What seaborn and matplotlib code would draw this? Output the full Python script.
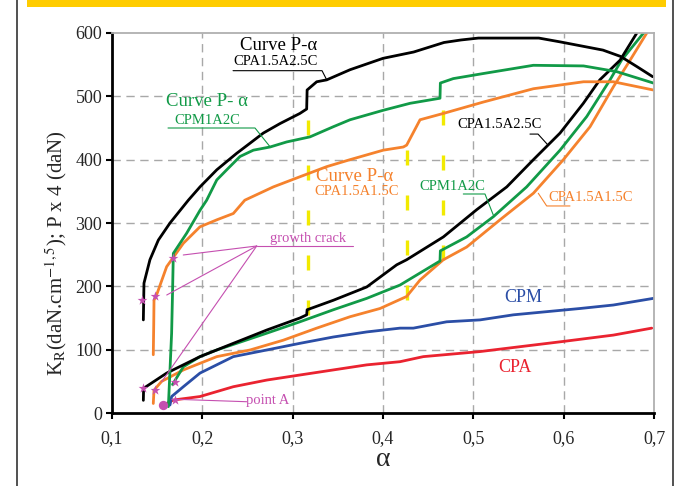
import numpy as np
import pandas as pd
import matplotlib
matplotlib.use("Agg")
import matplotlib.pyplot as plt
from matplotlib.lines import Line2D
from matplotlib.patches import Rectangle
import seaborn as sns

# ---------------- data ----------------
# P-alpha curves (P x 4)
p_black_a = [0.1347, 0.1354, 0.142, 0.1513, 0.1642, 0.1845, 0.1974, 0.216, 0.238, 0.2528, 0.2675, 0.286,
             0.308, 0.3155, 0.3160, 0.3266, 0.3377, 0.3635, 0.40, 0.434, 0.4675, 0.4864, 0.5056, 0.5725,
             0.596, 0.6435, 0.663, 0.681, 0.6986]
p_black_k = [147, 205, 242, 273, 300, 336, 357, 384, 410, 426, 442, 457,
             473, 480, 510, 523, 526, 542, 560, 570, 585, 589, 592, 592,
             586, 573, 563, 547, 531]

p_green_a = [0.1624, 0.1642, 0.1660, 0.1670, 0.1679, 0.1827, 0.1974, 0.2048, 0.216, 0.227, 0.2417, 0.2565,
             0.275, 0.2934, 0.3192, 0.345, 0.3635, 0.4003, 0.43, 0.4631, 0.4635, 0.4778, 0.511, 0.5664,
             0.622, 0.6587, 0.6993]
p_green_k = [10, 68, 126, 189, 252, 284, 320, 336, 368, 384, 405, 415,
             420, 428, 436, 452, 463, 478, 489, 497, 521, 528, 536, 549,
             548, 539, 521]

p_orange_a = [0.1457, 0.1462, 0.1465, 0.150, 0.1605, 0.179, 0.1974, 0.216, 0.2343, 0.247, 0.2786, 0.308,
              0.3377, 0.3635, 0.4003, 0.4225, 0.4262, 0.441, 0.4668, 0.5111, 0.5665, 0.622, 0.655, 0.6993]
p_orange_k = [92, 140, 178, 189, 231, 268, 294, 305, 315, 336, 357, 373,
              389, 400, 415, 420, 423, 463, 473, 491, 512, 523, 523, 510]

# K_R - alpha curves
k_black_a = [0.1347, 0.1350, 0.1605, 0.1974, 0.2343, 0.2713, 0.308, 0.3155, 0.3160, 0.345, 0.382, 0.4152,
             0.4262, 0.4668, 0.5037, 0.537, 0.5665, 0.596, 0.6218, 0.64, 0.6624, 0.681, 0.69]
k_black_k = [20, 39, 63, 89, 110, 131, 150, 155, 163, 178, 199, 234,
             242, 278, 321, 357, 400, 442, 489, 526, 557, 600, 620]

k_green_a = [0.167, 0.179, 0.1974, 0.216, 0.2713, 0.308, 0.345, 0.382, 0.4188, 0.4631, 0.4635, 0.4926,
             0.5222, 0.559, 0.596, 0.6255, 0.6513, 0.664, 0.6884, 0.695]
k_green_k = [45, 73, 89, 99.5, 126, 144, 163, 181, 202, 240, 256, 278,
             310, 357, 415, 468, 526, 557, 600, 612]

k_orange_a = [0.1457, 0.1465, 0.155, 0.179, 0.216, 0.2528, 0.2897, 0.3266, 0.3635, 0.3967, 0.4262, 0.441,
              0.4668, 0.4926, 0.5295, 0.5665, 0.5997, 0.6292, 0.655, 0.6735, 0.692, 0.70]
k_orange_k = [15, 36, 50, 68, 89, 99.5, 115, 134, 152, 165, 184, 210,
              242, 262, 305, 347, 400, 452, 515, 557, 600, 615]

cpm_a = [0.1642, 0.1660, 0.179, 0.1974, 0.2343, 0.2713, 0.308, 0.345, 0.382, 0.4188, 0.4336, 0.4705,
         0.5074, 0.5443, 0.5812, 0.6181, 0.655, 0.6993]
cpm_k = [12.6, 26, 41.5, 63, 89, 99.5, 110, 120, 128, 134, 134, 144,
         147, 155, 160, 165, 170.5, 181]

cpa_a = [0.1568, 0.1605, 0.1679, 0.1974, 0.2343, 0.2713, 0.308, 0.345, 0.382, 0.4188, 0.4446, 0.5074,
         0.5996, 0.655, 0.6975]
cpa_k = [7, 15, 20.5, 26, 41.5, 52, 60, 68, 76, 81, 89, 97,
         113, 123, 134]

# yellow dashed jump markers: alpha, K bottom, K top
jump_a = [0.3166, 0.4266, 0.4668]
jump_lo = [155, 178, 241]
jump_hi = [486, 423, 497]

# growth-crack / point A markers
star_a = [0.1329, 0.1476, 0.1679, 0.1347, 0.1476, 0.1697, 0.1697]
star_k = [178, 184, 244, 39, 36, 49, 20.5]
circle_a = [0.1568]
circle_k = [12.6]

x_ticks = [0.1, 0.2, 0.3, 0.4, 0.5, 0.6, 0.7]
x_tick_labels = ["0,1", "0,2", "0,3", "0,4", "0,5", "0,6", "0,7"]
y_ticks = [0, 100, 200, 300, 400, 500, 600]

# ---------------- style ----------------
sns.set_style("white")
plt.rcParams["font.family"] = ["Liberation Serif", "DejaVu Serif"]
plt.rcParams["mathtext.fontset"] = "stix"

BLACK = "#000000"
GREEN = "#119a47"
ORANGE = "#f5822d"
BLUE = "#2b4ea6"
RED = "#ea2330"
MAG = "#c54fb0"
YEL = "#f2ea00"

fig = plt.figure(figsize=(6.76, 4.86), dpi=100)
ax = fig.add_axes([112 / 676, 1 - 413 / 486, (654 - 112) / 676, (413 - 33) / 486])

# frame + yellow bar
fig.add_artist(Line2D([17 / 676, 17 / 676], [0, 1], color="#333333", lw=1.2, transform=fig.transFigure))
fig.add_artist(Line2D([673 / 676, 673 / 676], [0, 1], color="#333333", lw=1.2, transform=fig.transFigure))
fig.add_artist(Rectangle((27 / 676, 1 - 7 / 486), (666 - 27) / 676, 7 / 486, color="#ffcc00",
                         transform=fig.transFigure, lw=0))


def draw(a, k, color, lw):
    df = pd.DataFrame({"alpha": a, "K": k})
    sns.lineplot(data=df, x="alpha", y="K", sort=False, estimator=None, color=color, lw=lw, ax=ax)


# grid
for g in [0.2, 0.3, 0.4, 0.5, 0.6]:
    ax.axvline(g, color="#a8a8a8", lw=1.0, ls=(0, (6, 4)), zorder=0.5)
for g in [100, 200, 300, 400, 500]:
    ax.axhline(g, color="#a8a8a8", lw=1.0, ls=(0, (6, 4)), zorder=0.5)

# yellow dashed lines
for xa, lo, hi in zip(jump_a, jump_lo, jump_hi):
    ax.plot([xa, xa], [lo, hi], color=YEL, lw=2.4, ls=(0, (4.5, 9)), zorder=1)

draw(cpa_a, cpa_k, RED, 2.0)
draw(cpm_a, cpm_k, BLUE, 2.0)
draw(k_orange_a, k_orange_k, ORANGE, 2.0)
draw(k_green_a, k_green_k, GREEN, 2.0)
draw(k_black_a, k_black_k, BLACK, 2.0)
draw(p_orange_a, p_orange_k, ORANGE, 2.0)
draw(p_green_a, p_green_k, GREEN, 2.0)
draw(p_black_a, p_black_k, BLACK, 2.0)

# markers
ax.scatter(star_a, star_k, marker="*", s=55, color=MAG, zorder=5, linewidths=0)
ax.scatter(circle_a, circle_k, marker="o", s=45, color=MAG, zorder=5, linewidths=0)

# annotations
ax.text(0.2849, 581, "Curve P-α", fontsize=13.5, ha="center", va="center", color=BLACK)
ax.text(0.2816, 555, "CPA1.5A2.5C", fontsize=10.5, ha="center", va="center", color=BLACK)
ax.plot([0.2340, 0.3325, 0.3377], [540.5, 540.5, 526], color=BLACK, lw=0.8)

ax.text(0.2052, 491.6, "Curve P- α", fontsize=13.5, ha="center", va="center", color=GREEN)
ax.text(0.2052, 462.6, "CPM1A2C", fontsize=10.5, ha="center", va="center", color=GREEN)
ax.plot([0.162, 0.2583, 0.2749], [450, 450, 420.5], color=GREEN, lw=0.8)

ax.text(0.369, 373, "Curve P-α", fontsize=13.5, ha="center", va="center", color=ORANGE)
ax.text(0.3712, 349.4, "CPA1.5A1.5C", fontsize=10.5, ha="center", va="center", color=ORANGE)

ax.text(0.5295, 454.8, "CPA1.5A2.5C", fontsize=10.5, ha="center", va="center", color=BLACK)
ax.plot([0.5627, 0.5716, 0.5827], [440.4, 440.4, 423.0], color=BLACK, lw=0.8)

ax.text(0.4764, 358.4, "CPM1A2C", fontsize=10.5, ha="center", va="center", color=GREEN)
ax.plot([0.4889, 0.5129, 0.5221], [345.8, 345.8, 312.6], color=GREEN, lw=0.8)

ax.text(0.6303, 341, "CPA1.5A1.5C", fontsize=10.5, ha="center", va="center", color=ORANGE)
ax.plot([0.5719, 0.5812, 0.607], [346.9, 326.9, 326.9], color=ORANGE, lw=0.8)

ax.text(0.555, 181.6, "CPM", fontsize=13, ha="center", va="center", color=BLUE)
ax.text(0.5461, 72.6, "CPA", fontsize=13, ha="center", va="center", color=RED)

ax.text(0.317, 276.3, "growth crack", fontsize=10.5, ha="center", va="center", color=MAG)
ax.plot([0.2602, 0.3668], [263.7, 263.7], color=MAG, lw=0.8)
for ta, tk in [(0.1789, 249.5), (0.1606, 186.3), (0.155, 49.4)]:
    ax.plot([0.2602, ta], [263.7, tk], color=MAG, lw=0.8)

ax.text(0.2727, 20.5, "point A", fontsize=10.5, ha="center", va="center", color=MAG)
ax.plot([0.2491, 0.1716], [17.8, 21.6], color=MAG, lw=0.8)

# axes
ax.set_xlim(0.1, 0.7)
ax.set_ylim(0, 600)
ax.set_xticks(x_ticks)
ax.set_xticklabels(x_tick_labels)
ax.set_yticks(y_ticks)
ax.tick_params(axis="both", which="major", labelsize=13, direction="out", length=4, width=1.5,
               color="black", bottom=True, left=True)
ax.tick_params(axis="x", pad=8)
ax.tick_params(axis="y", pad=3)
ax.set_xlabel("α", fontsize=20, labelpad=0)
ax.set_ylabel("K$_\\mathrm{R}$(daN.cm$^{-1,5}$); P x 4 (daN)", fontsize=15)
ax.yaxis.set_label_coords(-0.08, 0.42)
ax.grid(False)
for s in ["left", "bottom"]:
    ax.spines[s].set_color("black")
    ax.spines[s].set_linewidth(2.0)
for s in ["top", "right"]:
    ax.spines[s].set_color("#b0b0b0")
    ax.spines[s].set_linewidth(1.3)

fig.savefig("out.png", dpi=100)
